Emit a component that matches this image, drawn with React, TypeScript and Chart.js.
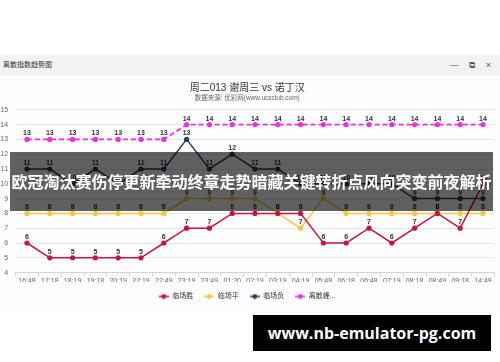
import React, { useEffect, useRef } from "react";
import { Chart, registerables } from "chart.js";

Chart.register(...registerables);

const categories = ["16:48", "17:18", "18:19", "19:18", "20:19", "22:19", "22:49", "23:19", "23:49", "01:20", "02:19", "03:19", "04:19", "05:48", "06:18", "06:48", "07:19", "08:18", "08:49", "09:18", "14:49"];
const winValues = [6, 5, 5, 5, 5, 5, 6, 7, 7, 8, 8, 8, 8, 6, 6, 7, 6, 7, 8, 7, 10];
const drawValues = [8, 8, 8, 8, 8, 8, 8, 9, 9, 9, 9, 8, 7, 9, 8, 8, 8, 8, 8, 8, 8];
const lossValues = [11, 11, 10, 11, 10, 11, 11, 13, 11, 12, 11, 11, 10, 10, 10, 10, 10, 9, 9, 9, 9];
const peakValues = [13, 13, 13, 13, 13, 13, 13, 14, 14, 14, 14, 14, 14, 14, 14, 14, 14, 14, 14, 14, 14];
const seriesNames = ["临场胜", "临场平", "临场负", "离散峰..."];
const seriesColors = ["#c8143e", "#f4c842", "#243f5e", "#ea2fe4"];
const yMin = 4;
const yMax = 15;

const FONT = "'Liberation Sans', 'Noto Sans CJK SC', Arial, sans-serif";

function makeIcon(color: string): HTMLCanvasElement {
  const c = document.createElement("canvas");
  c.width = 10;
  c.height = 6;
  const g = c.getContext("2d")!;
  g.strokeStyle = color;
  g.lineWidth = 1.5;
  g.beginPath();
  g.moveTo(0, 3);
  g.lineTo(10, 3);
  g.stroke();
  g.fillStyle = color;
  g.beginPath();
  g.arc(5, 3, 2.4, 0, Math.PI * 2);
  g.fill();
  return c;
}

const valueLabels = {
  id: "valueLabels",
  afterDatasetsDraw(chart: any) {
    const ctx = chart.ctx;
    ctx.save();
    ctx.font = `bold 7px ${FONT}`;
    ctx.fillStyle = "#333";
    ctx.textAlign = "center";
    ctx.textBaseline = "bottom";
    chart.data.datasets.forEach((ds: any, i: number) => {
      const meta = chart.getDatasetMeta(i);
      meta.data.forEach((pt: any, j: number) => {
        ctx.fillText(String(ds.data[j]), pt.x, pt.y - 2.5);
      });
    });
    ctx.restore();
  },
};

export default function App() {
  const ref = useRef<HTMLCanvasElement | null>(null);

  useEffect(() => {
    if (!ref.current) return;
    const values = [winValues, drawValues, lossValues, peakValues];
    const icons = seriesColors.map(makeIcon);
    const chart = new Chart(ref.current, {
      type: "line",
      data: {
        labels: categories,
        datasets: values.map((v, i) => ({
          label: seriesNames[i],
          data: v,
          borderColor: seriesColors[i],
          backgroundColor: seriesColors[i],
          pointBackgroundColor: seriesColors[i],
          pointBorderColor: seriesColors[i],
          pointRadius: 2.6,
          pointBorderWidth: 0,
          borderWidth: i === 3 ? 1.8 : 1.5,
          borderDash: i === 3 ? [5, 3] : [],
          tension: 0,
          fill: false,
        })),
      },
      options: {
        animation: false,
        responsive: false,
        maintainAspectRatio: false,
        layout: { padding: { left: 0, right: 5.6, top: 0, bottom: 0 } },
        plugins: {
          title: {
            display: true,
            text: "周二013 谢周三 vs 诺丁汉",
            color: "#333",
            font: { size: 10, family: FONT, weight: "normal", lineHeight: 1.2 },
            padding: { top: 7, bottom: 0 },
          },
          subtitle: {
            display: true,
            text: "数据来源: 优彩网(www.ucsclub.com)",
            color: "#666",
            font: { size: 6.5, family: FONT, lineHeight: 1.2 },
            padding: { top: 0, bottom: 8 },
          },
          legend: {
            display: true,
            position: "bottom",
            labels: {
              usePointStyle: true,
              pointStyleWidth: 10,
              padding: 11,
              color: "#333",
              font: { size: 7, family: FONT },
              generateLabels: (ch: any) => {
                const items = Chart.defaults.plugins.legend.labels.generateLabels(ch);
                return items.map((it: any, k: number) => ({ ...it, pointStyle: icons[k] }));
              },
            },
          },
          tooltip: { enabled: false },
        },
        scales: {
          x: {
            offset: true,
            grid: {
              offset: true,
              drawOnChartArea: false,
              drawTicks: true,
              tickLength: 4,
              color: "#ccd6eb",
            },
            border: { display: true, color: "#ccd6eb" },
            ticks: {
              color: "#666",
              font: { size: 7, family: FONT },
              padding: 0,
              maxRotation: 0,
              autoSkip: false,
            },
            afterFit: (s: any) => {
              s.height = 9.4;
            },
          },
          y: {
            min: yMin,
            max: yMax,
            grid: { color: "#e6e6e6", drawTicks: false },
            border: { display: false },
            ticks: {
              stepSize: 1,
              color: "#666",
              font: { size: 7, family: FONT },
              padding: 7.5,
            },
            afterFit: (s: any) => {
              s.width = 15.6;
            },
          },
        },
      },
      plugins: [valueLabels],
    } as any);
    return () => chart.destroy();
  }, []);

  return (
    <div
      style={{
        position: "absolute",
        left: 0,
        top: 0,
        width: 500,
        height: 362,
        background: "#ffffff",
        overflow: "hidden",
        fontFamily: FONT,
      }}
    >
      <div
        style={{
          position: "absolute",
          left: 0,
          top: 55,
          width: 500,
          height: 20,
          background: "#f2f2f2",
        }}
      >
        <div style={{ position: "absolute", left: 3, top: 0, lineHeight: "20px", fontSize: 7, color: "#333" }}>
          离散指数趋势图
        </div>
        <div style={{ position: "absolute", right: 5, top: 0, lineHeight: "20px", fontSize: 9, color: "#555", letterSpacing: 4 }}>
          — ⧉ ×
        </div>
      </div>
      <div style={{ position: "absolute", left: 0, top: 75, width: 500, height: 235, background: "#fdfdfe" }}>
        <canvas ref={ref} width={500} height={235} style={{ display: "block", width: 500, height: 235 }} />
      </div>
      <div
        style={{
          position: "absolute",
          left: 10,
          top: 152,
          width: 483,
          height: 59,
          background: "rgba(0,0,0,0.62)",
          color: "#fff",
          fontFamily: "'Noto Sans CJK SC', sans-serif",
          fontWeight: 700,
          fontSize: 16,
          lineHeight: "59px",
          textAlign: "center",
          whiteSpace: "nowrap",
        }}
      >
        欧冠淘汰赛伤停更新牵动终章走势暗藏关键转折点风向突变前夜解析
      </div>
      <div
        style={{
          position: "absolute",
          left: 253,
          top: 315,
          width: 238,
          height: 36,
          background: "#000",
          color: "#fff",
          fontFamily: "'Open Sans', 'DejaVu Sans', sans-serif",
          fontWeight: 700,
          fontSize: 16,
          lineHeight: "36px",
          textAlign: "center",
          whiteSpace: "nowrap",
        }}
      >
        www.nb-emulator-pg.com
      </div>
    </div>
  );
}
